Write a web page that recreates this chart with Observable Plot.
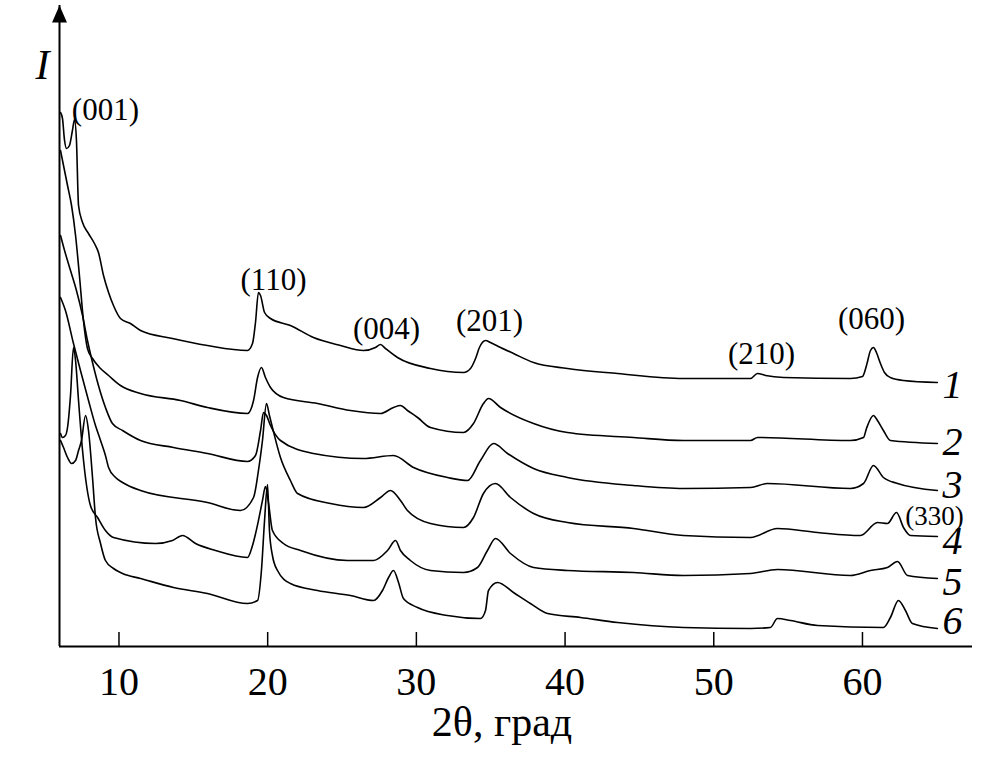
<!DOCTYPE html>
<html>
<head>
<meta charset="utf-8">
<script src="https://cdn.jsdelivr.net/npm/d3@7"></script>
<script src="https://cdn.jsdelivr.net/npm/@observablehq/plot@0.6"></script>
<style>
  html, body { margin: 0; padding: 0; background: #fff; }
  #chart svg { display: block; }
</style>
</head>
<body>
<div id="chart"></div>
<script>
// ---- data (2θ in degrees, intensity in arbitrary units) ----
const theta1 = [6.07,6.20,6.34,6.47,6.67,6.87,7.01,7.14,7.28,7.55,7.95,8.35,8.62,8.96,9.30,9.63,10.10,10.77,11.45,13.60,15.95,18.64,18.98,19.18,19.38,19.52,19.79,20.19,21.53,23.08,24.90,26.44,27.25,27.59,27.92,28.73,30.95,33.17,33.64,33.98,34.24,34.65,34.98,35.66,36.53,37.88,40.16,43.53,47.96,52.47,52.94,53.48,54.69,59.19,60.00,60.27,60.54,60.74,60.94,61.21,61.48,61.88,62.76,65.04];
const int1   = [534,528,506,498,501,516,527,506,441,424,413,403,394,371,354,341,328,323,316,308,301,296,303,324,354,351,334,328,321,309,301,296,299,302,298,289,278,274,278,288,299,306,304,299,293,284,278,273,268,268,273,271,269,268,270,281,296,299,294,283,274,269,266,264];

const theta2 = [6.07,6.27,6.54,6.81,7.08,7.34,7.61,7.88,8.22,8.76,9.30,10.10,11.45,14.14,15.95,18.64,19.05,19.32,19.58,19.85,20.19,21.06,23.35,25.57,27.59,28.46,28.93,29.40,30.08,30.95,33.17,33.84,34.51,34.85,35.66,37.88,40.16,44.60,47.96,52.47,52.94,59.19,60.07,60.27,60.74,61.01,61.41,61.88,65.04];
const int2   = [496,481,461,441,411,371,326,298,288,278,271,261,253,246,239,233,246,269,279,269,259,249,243,236,233,239,241,236,229,219,214,223,243,248,239,223,214,209,206,206,209,206,209,218,231,226,216,206,203];

const theta3 = [6.07,6.34,6.74,7.14,7.55,7.88,8.22,8.62,9.09,9.56,10.24,11.45,13.67,15.95,18.64,19.18,19.52,19.72,19.92,20.19,20.86,23.08,26.44,28.46,29.81,32.09,33.44,34.31,35.19,36.13,37.88,40.16,44.60,47.96,52.47,53.61,59.19,60.07,60.74,61.41,62.36,65.04];
const int3   = [411,396,376,356,331,306,284,261,239,223,216,206,199,193,185,191,216,234,231,221,206,193,188,191,179,169,166,186,203,193,178,169,161,158,159,163,158,163,181,169,163,156];

const theta4 = [6.07,6.40,6.94,7.41,7.95,8.42,8.76,9.09,9.30,9.77,10.24,11.45,15.95,18.17,19.05,19.38,19.65,19.92,20.12,20.32,20.86,21.53,22.01,24.22,26.44,27.59,28.26,28.93,29.40,30.95,33.17,33.84,34.51,35.32,36.33,37.88,40.16,44.60,47.96,52.47,54.28,56.98,59.87,61.01,61.68,62.29,62.76,63.23,65.04];
const int4   = [349,336,303,276,246,221,206,191,179,169,164,156,144,136,149,176,206,243,231,219,189,166,153,143,139,149,156,146,136,123,119,129,153,163,149,133,124,118,111,109,118,114,111,124,123,134,119,111,110];

const theta5 = [6.07,6.20,6.40,6.54,6.74,6.94,7.08,7.28,7.55,7.82,8.08,8.56,9.09,9.63,12.46,13.60,14.27,15.15,16.49,18.64,18.98,19.38,19.65,19.85,20.06,20.32,21.06,22.21,25.37,27.12,28.06,28.60,28.93,29.60,30.95,33.17,34.11,34.78,35.32,36.33,37.88,40.16,44.60,47.96,52.47,54.28,59.19,60.54,61.68,62.36,63.03,65.04];
const int5   = [213,209,211,219,251,299,286,246,196,161,141,129,116,109,103,106,111,103,96,89,101,126,146,160,143,116,103,96,86,86,96,106,96,86,76,74,79,96,108,93,79,76,74,71,73,77,71,76,79,85,71,68];

const theta6 = [6.07,6.27,6.54,6.81,7.08,7.28,7.48,7.75,7.95,8.22,8.42,8.76,9.09,9.63,10.24,11.45,13.67,15.95,18.64,19.32,19.58,19.79,19.99,20.12,20.32,20.66,21.53,23.35,25.57,27.12,27.72,28.13,28.46,28.80,29.13,30.08,32.09,34.31,34.65,34.85,35.46,36.53,37.67,38.82,41.04,43.53,47.96,52.47,53.81,54.28,55.16,56.98,61.41,61.88,62.42,62.89,63.36,65.04];
const int6   = [206,199,189,183,186,196,206,231,216,169,129,103,86,78,73,68,59,53,43,46,76,126,162,116,91,76,63,56,51,46,56,69,76,64,48,39,31,28,36,56,64,54,43,33,29,24,19,18,19,28,26,21,19,29,46,36,23,18];

const tickValues = [10, 20, 30, 40, 50, 60];
const xTitle = "2θ, град";
const yTitle = "I";

const curveNames = ["1", "2", "3", "4", "5", "6"];
const curveLabelTheta = [66.05, 66.05, 66.05, 66.05, 66.05, 66.05];
const curveLabelI     = [249, 192, 149, 93, 52, 13];

const peakNames = ["(001)", "(110)", "(004)", "(201)", "(210)", "(060)", "(330)"];
const peakTheta = [9.09, 20.39, 27.99, 34.92, 53.21, 60.61, 64.84];
const peakI     = [527, 357, 308, 316, 283, 318, 122];

// ---- tables built from the arrays ----
const thetas = [theta1, theta2, theta3, theta4, theta5, theta6];
const ints = [int1, int2, int3, int4, int5, int6];
const rows = thetas.flatMap((t, k) => t.map((v, i) => ({curve: curveNames[k], theta: v, I: ints[k][i]})));
const curveLabels = curveNames.map((n, i) => ({text: n, theta: curveLabelTheta[i], I: curveLabelI[i]}));
const peaks = peakNames.map((n, i) => ({text: n, theta: peakTheta[i], I: peakI[i], small: n === "(330)"}));

const serif = "'Liberation Serif', 'Times New Roman', serif";
const arrowHead = {
  draw(ctx) {
    ctx.moveTo(0, 0);
    ctx.lineTo(7.5, 17);
    ctx.lineTo(-7.5, 17);
    ctx.closePath();
  }
};

const chart = Plot.plot({
  width: 1004,
  height: 764,
  marginLeft: 59,
  marginRight: 32,
  marginTop: 5,
  marginBottom: 118,
  style: {background: "#fff", fontFamily: serif, color: "#000"},
  x: {domain: [6, 67.4]},
  y: {domain: [0, 641], axis: null},
  marks: [
    Plot.axisX({ticks: tickValues, tickSize: 0, tickPadding: 20, fontSize: 40, fontFamily: serif, label: null, tickFormat: d => String(d)}),
    Plot.ruleX(tickValues, {y1: 0, y2: 14, stroke: "#000", strokeWidth: 1.5}),
    Plot.ruleY([0], {stroke: "#000", strokeWidth: 2}),
    Plot.ruleX([6], {stroke: "#000", strokeWidth: 2}),
    Plot.dot([yTitle], {frameAnchor: "top-left", symbol: arrowHead, r: 5, fill: "#000", stroke: "none"}),
    Plot.line(rows, {x: "theta", y: "I", z: "curve", curve: "monotone-x", stroke: "#000", strokeWidth: 1.6, strokeLinejoin: "round"}),
    Plot.text(peaks.filter(d => !d.small), {x: "theta", y: "I", text: "text", fontSize: 31, fontFamily: serif, lineAnchor: "bottom", textAnchor: "middle", fill: "#000"}),
    Plot.text(peaks.filter(d => d.small), {x: "theta", y: "I", text: "text", fontSize: 27, fontFamily: serif, lineAnchor: "bottom", textAnchor: "middle", fill: "#000"}),
    Plot.text(curveLabels, {x: "theta", y: "I", text: "text", fontSize: 40, fontStyle: "italic", fontFamily: serif, lineAnchor: "bottom", textAnchor: "middle", fill: "#000"}),
    Plot.text([yTitle], {frameAnchor: "top-left", dx: -17, dy: 73, fontSize: 42, fontStyle: "italic", fontFamily: serif, lineAnchor: "bottom", textAnchor: "middle", fill: "#000"}),
    Plot.text([xTitle], {frameAnchor: "bottom", dx: -14, dy: 89, fontSize: 42, fontFamily: serif, lineAnchor: "bottom", textAnchor: "middle", fill: "#000"})
  ]
});
document.getElementById("chart").appendChild(chart);
</script>
</body>
</html>
